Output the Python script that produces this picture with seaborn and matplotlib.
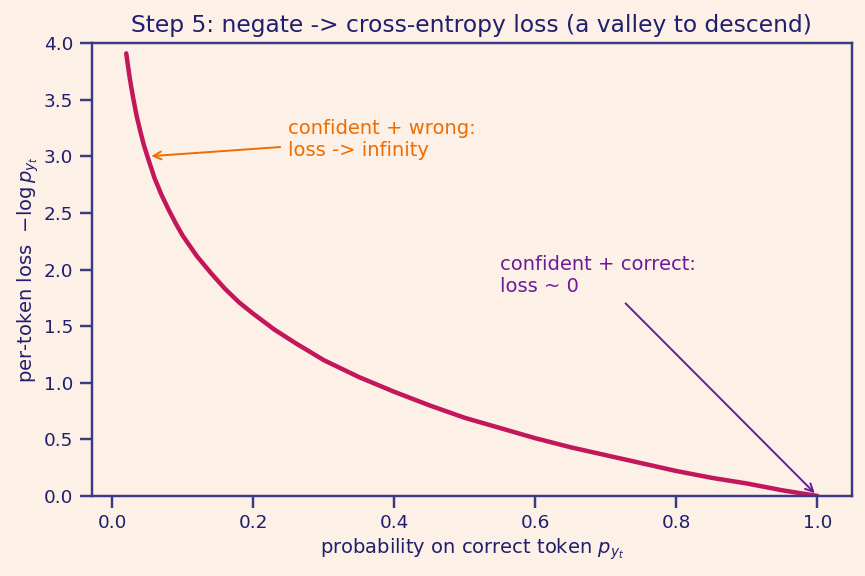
import matplotlib
matplotlib.use("Agg")
import matplotlib.pyplot as plt
import seaborn as sns
import pandas as pd

# values
prob = [0.02, 0.022, 0.025, 0.028, 0.03, 0.035, 0.04, 0.045, 0.05, 0.06, 0.07, 0.08,
        0.09, 0.10, 0.12, 0.14, 0.16, 0.18, 0.20, 0.23, 0.26, 0.30, 0.35, 0.40,
        0.45, 0.50, 0.55, 0.60, 0.65, 0.70, 0.75, 0.80, 0.85, 0.90, 0.95, 1.00]
loss = [3.91, 3.82, 3.69, 3.58, 3.51, 3.35, 3.22, 3.10, 3.00, 2.81, 2.66, 2.53,
        2.41, 2.30, 2.12, 1.97, 1.83, 1.71, 1.61, 1.47, 1.35, 1.20, 1.05, 0.92,
        0.80, 0.69, 0.60, 0.51, 0.43, 0.36, 0.29, 0.22, 0.16, 0.11, 0.05, 0.00]

BG = "#fdf0e6"
NAVY = "#1f1f6e"
SPINE = "#3b3b85"
CURVE = "#c2185b"
ORANGE = "#ef6c00"
PURPLE = "#6a1b9a"

sns.set_theme(style="ticks", rc={
    "figure.facecolor": BG, "axes.facecolor": BG, "savefig.facecolor": BG,
    "axes.edgecolor": SPINE, "axes.labelcolor": NAVY, "text.color": NAVY,
    "xtick.color": SPINE, "ytick.color": SPINE, "xtick.labelcolor": NAVY,
    "ytick.labelcolor": NAVY, "axes.titlecolor": NAVY,
})
plt.rcParams["font.family"] = ["DejaVu Sans"]

df = pd.DataFrame({"p": prob, "loss": loss})

DPI = 140
fig, ax = plt.subplots(figsize=(865 / DPI, 576 / DPI), dpi=DPI)
sns.lineplot(data=df, x="p", y="loss", ax=ax, color=CURVE, linewidth=2.3)

ax.annotate("confident + wrong:\nloss -> infinity", xy=(0.05, 3.0), xytext=(0.25, 3.0),
            color=ORANGE, fontsize=10,
            arrowprops=dict(arrowstyle="->", color=ORANGE, lw=1))
ax.annotate("confident + correct:\nloss ~ 0", xy=(1.0, 0.0), xytext=(0.55, 1.8),
            color=PURPLE, fontsize=10,
            arrowprops=dict(arrowstyle="->", color=PURPLE, lw=1))

ax.set_ylim(0, 4)
ax.set_xlabel("probability on correct token $p_{y_t}$", fontsize=10, labelpad=2)
ax.set_ylabel("per-token loss  $-\\log p_{y_t}$", fontsize=10, labelpad=1.5)
ax.set_title("Step 5: negate -> cross-entropy loss (a valley to descend)", fontsize=12)
ax.tick_params(labelsize=9.5)

fig.subplots_adjust(left=0.106, right=0.985, top=0.925, bottom=0.139)
fig.savefig("out.png", dpi=DPI)
